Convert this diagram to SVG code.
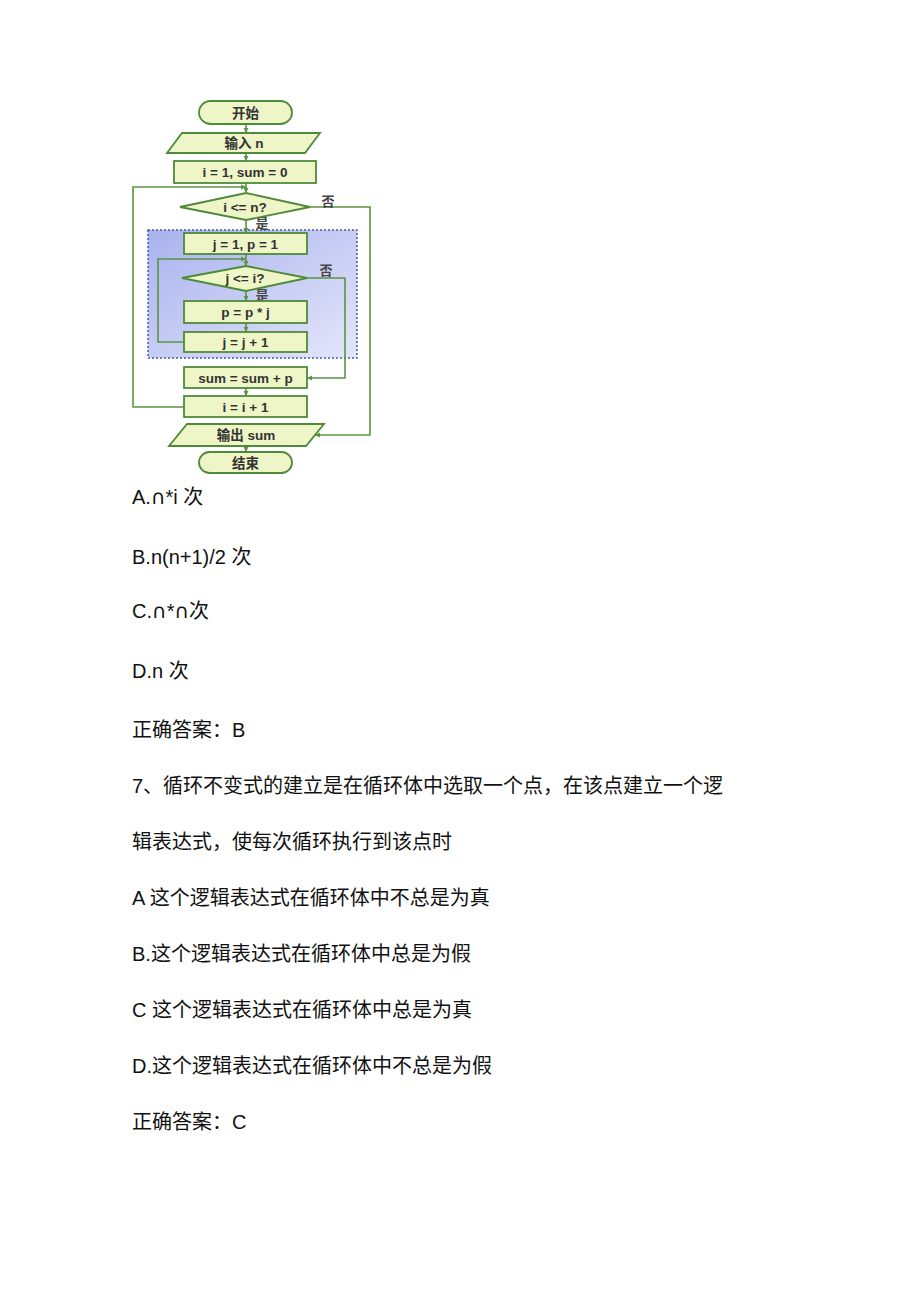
<svg xmlns="http://www.w3.org/2000/svg" width="920" height="1301" viewBox="0 0 920 1301">
<defs>
<style>
.nd{fill:#eef5c6;stroke:#4f8a3a;stroke-width:1.8}
.nt{font-family:"Liberation Sans","Noto Sans CJK SC",sans-serif;font-size:13.5px;font-weight:bold;fill:#333;text-anchor:middle}
.lb{font-family:"Noto Sans CJK SC",sans-serif;font-size:13px;font-weight:bold;fill:#444;text-anchor:middle}
.cn{fill:none;stroke:#5a9444;stroke-width:1.6}
.tx{font-family:"Liberation Sans","Noto Sans CJK SC",sans-serif;font-size:20px;fill:#111}
.cap{font-family:"DejaVu Sans",sans-serif;font-size:20px}
</style>
<marker id="ah" markerWidth="6" markerHeight="6" refX="5" refY="3" orient="auto" markerUnits="userSpaceOnUse">
<path d="M0,0.5 L5,3 L0,5.5 Z" fill="#5a9444"/>
</marker>
<linearGradient id="bg" x1="0" y1="0" x2="1" y2="1">
<stop offset="0" stop-color="#a9b2ee"/>
<stop offset="1" stop-color="#e4e6fa"/>
</linearGradient>
</defs>
<rect width="920" height="1301" fill="#fff"/>
<g id="innerloop">
<rect x="148" y="230" width="209" height="128" fill="url(#bg)" stroke="#4a55b0" stroke-width="1.5" stroke-dasharray="2,2"/>
</g>
<g id="connectors">
<path class="cn" d="M246,124 V133" marker-end="url(#ah)"/>
<path class="cn" d="M246,153 V161" marker-end="url(#ah)"/>
<path class="cn" d="M246,183 V193" marker-end="url(#ah)"/>
<path class="cn" d="M246,220 V233" marker-end="url(#ah)"/>
<path class="cn" d="M246,254 V266" marker-end="url(#ah)"/>
<path class="cn" d="M246,291 V301" marker-end="url(#ah)"/>
<path class="cn" d="M246,323 V332" marker-end="url(#ah)"/>
<path class="cn" d="M184,342 H158 V259 H246" marker-end="url(#ah)"/>
<path class="cn" d="M307,278 H345 V378 H307" marker-end="url(#ah)"/>
<path class="cn" d="M246,388 V396" marker-end="url(#ah)"/>
<path class="cn" d="M184,407 H133 V187 H246" marker-end="url(#ah)"/>
<path class="cn" d="M310,207 H370 V435 H315" marker-end="url(#ah)"/>
<path class="cn" d="M246,446 V452" marker-end="url(#ah)"/>
<text class="lb" x="328" y="206">否</text>
<text class="lb" x="262" y="228">是</text>
<text class="lb" x="326" y="275">否</text>
<text class="lb" x="262" y="300">是</text>
</g>
<g id="start"><rect class="nd" x="199" y="101" width="93" height="23" rx="11.5"/><text class="nt" x="245.5" y="117.5">开始</text></g>
<g id="input"><polygon class="nd" points="182,133 320,133 305,153 167,153"/><text class="nt" x="244" y="148">输入 n</text></g>
<g id="init"><rect class="nd" x="174" y="161" width="142" height="22"/><text class="nt" x="245" y="177">i = 1, sum = 0</text></g>
<g id="cond1"><polygon class="nd" points="180,207 246,193 310,207 246,220"/><text class="nt" x="245" y="212">i &lt;= n?</text></g>
<g id="initj"><rect class="nd" x="184" y="233" width="123" height="21"/><text class="nt" x="245.5" y="248.5">j = 1, p = 1</text></g>
<g id="cond2"><polygon class="nd" points="182,278 246,266 307,278 246,291"/><text class="nt" x="245" y="283">j &lt;= i?</text></g>
<g id="mul"><rect class="nd" x="184" y="301" width="123" height="22"/><text class="nt" x="245.5" y="317">p = p * j</text></g>
<g id="incj"><rect class="nd" x="184" y="332" width="123" height="20"/><text class="nt" x="245.5" y="347">j = j + 1</text></g>
<g id="sum"><rect class="nd" x="184" y="367" width="123" height="21"/><text class="nt" x="245.5" y="382.5">sum = sum + p</text></g>
<g id="inci"><rect class="nd" x="184" y="396" width="123" height="21"/><text class="nt" x="245.5" y="411.5">i = i + 1</text></g>
<g id="output"><polygon class="nd" points="187,424 324,424 306,446 169,446"/><text class="nt" x="246" y="440">输出 sum</text></g>
<g id="end"><rect class="nd" x="199" y="452" width="93" height="21" rx="10.5"/><text class="nt" x="245.5" y="467.5">结束</text></g>
<g id="text">
<text class="tx" x="132" y="504">A.<tspan class="cap">∩</tspan>*i 次</text>
<text class="tx" x="132" y="564">B.n(n+1)/2 次</text>
<text class="tx" x="132" y="618">C.<tspan class="cap">∩</tspan>*<tspan class="cap">∩</tspan>次</text>
<text class="tx" x="132" y="678">D.n 次</text>
<text class="tx" x="132" y="737">正确答案：B</text>
<text class="tx" x="132" y="793">7、循环不变式的建立是在循环体中选取一个点，在该点建立一个逻</text>
<text class="tx" x="132" y="849">辑表达式，使每次循环执行到该点时</text>
<text class="tx" x="132" y="905">A 这个逻辑表达式在循环体中不总是为真</text>
<text class="tx" x="132" y="961">B.这个逻辑表达式在循环体中总是为假</text>
<text class="tx" x="132" y="1017">C 这个逻辑表达式在循环体中总是为真</text>
<text class="tx" x="132" y="1073">D.这个逻辑表达式在循环体中不总是为假</text>
<text class="tx" x="132" y="1129">正确答案：C</text>
</g>
</svg>
